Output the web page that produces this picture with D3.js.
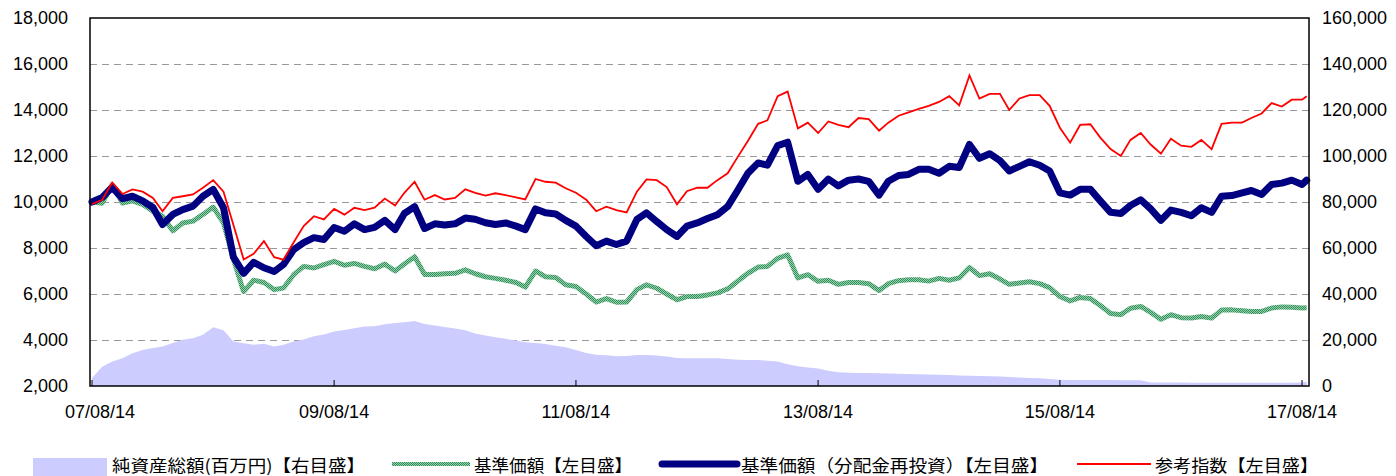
<!DOCTYPE html>
<html>
<head>
<meta charset="utf-8">
<script src="https://cdn.jsdelivr.net/npm/d3@7"></script>
<style>
  body { margin: 0; background: #fff; }
  text { font-family: "Liberation Sans", Arial, sans-serif; fill: #000; }
  .jp { font-family: "Noto Sans CJK JP", sans-serif; }
</style>
</head>
<body>
<svg id="chart" width="1396" height="476"></svg>
<script>
// monthly observations, 2007/08/14 .. 2017/08/14, plus the last day shown
const firstDate = "2007-08-14";
const lastDate = "2017-08-28";

// 純資産総額 (百万円), right axis
const netAssets = [
  3500, 8400, 10600, 12100, 14250, 15700, 16500, 17200, 18700, 20100,
  20800, 22300, 25500, 24200, 19300, 18600, 17900, 18400, 17200, 17900,
  19300, 20200, 21600, 22400, 23700, 24400, 25100, 25850, 26000, 26800,
  27400, 27700, 28300, 27000, 26300, 25700, 25000, 24200, 22800, 22000,
  21200, 20500, 19800, 19000, 18700, 18300, 17500, 16800, 15700, 14300,
  13600, 13400, 12900, 13000, 13500, 13500, 13300, 12800, 12200, 12100,
  12100, 12100, 12100, 11700, 11400, 11300, 11300, 11000, 10600, 9500,
  8600, 8000, 7600, 6600, 6000, 5800, 5700, 5600, 5550, 5400,
  5300, 5200, 5100, 5000, 4900, 4800, 4600, 4500, 4300, 4200,
  4100, 3900, 3700, 3500, 3400, 3000, 2700, 2600, 2600, 2600,
  2600, 2600, 2550, 2550, 2500, 1500, 1500, 1500, 1480, 1460,
  1450, 1450, 1450, 1450, 1450, 1450, 1450, 1450, 1450, 1450,
  1500, 1800
];

// 基準価額, left axis
const nav = [
  10000, 9950, 10750, 9950, 10050, 9900, 9600, 9380, 8750, 9090,
  9170, 9460, 9780, 9090, 7500, 6100, 6600, 6500, 6190, 6260,
  6840, 7200, 7130, 7280, 7420, 7250, 7330, 7200, 7100, 7300,
  7000, 7300, 7620, 6850, 6850, 6880, 6900, 7050, 6880, 6750,
  6680, 6600, 6500, 6300, 7000, 6750, 6720, 6400, 6330, 6000,
  5650, 5800, 5640, 5650, 6190, 6400, 6250, 6000, 5750, 5890,
  5890, 5960, 6050, 6220, 6550, 6900, 7170, 7200, 7550, 7700,
  6700, 6840, 6550, 6600, 6420, 6500, 6500, 6450, 6150, 6450,
  6580, 6620, 6620, 6560, 6680, 6600, 6700, 7150, 6800, 6880,
  6650, 6420, 6480, 6530, 6450, 6280, 5890, 5700, 5850, 5800,
  5500, 5150, 5100, 5380, 5460, 5200, 4900, 5100, 4970, 4960,
  5020, 4950, 5300, 5310, 5270, 5240, 5240, 5390, 5440, 5420,
  5390, 5400
];

// 基準価額(分配金再投資), left axis
const navReinvested = [
  10000, 10200, 10650, 10150, 10250, 10050, 9760, 9020, 9460, 9670,
  9820, 10250, 10550, 9750, 7600, 6900, 7380, 7140, 6980, 7280,
  7930, 8230, 8450, 8370, 8890, 8730, 9050, 8800, 8900, 9200,
  8800, 9500, 9800, 8850, 9050, 9000, 9050, 9300, 9250, 9100,
  9020, 9090, 8950, 8800, 9700, 9530, 9480, 9200, 8950, 8500,
  8100, 8300, 8150, 8300, 9240, 9530, 9150, 8800, 8500, 8950,
  9090, 9280, 9450, 9800, 10500, 11250, 11700, 11600, 12450, 12600,
  10900, 11200, 10550, 11000, 10700, 10950, 11000, 10900, 10300, 10900,
  11150, 11200, 11420, 11420, 11250, 11550, 11500, 12500, 11900, 12100,
  11800, 11350, 11550, 11750, 11600, 11350, 10400, 10300, 10550, 10550,
  10050, 9550, 9500, 9850, 10100, 9700, 9200, 9650, 9550, 9400,
  9750, 9550, 10250, 10280, 10400, 10500, 10330, 10760, 10820, 10950,
  10760, 10950
];

// 参考指数, left axis
const refIndex = [
  9900, 10100, 10850, 10350, 10550, 10450, 10180, 9600, 10180, 10250,
  10330, 10620, 10950, 10450, 9000, 7500, 7750, 8300, 7600, 7490,
  8250, 8950, 9380, 9240, 9700, 9450, 9750, 9650, 9750, 10150,
  9850, 10400, 10880, 10100, 10300, 10110, 10180, 10550, 10400, 10280,
  10380, 10300, 10200, 10110, 11000, 10880, 10840, 10600, 10400, 10100,
  9600, 9800, 9650, 9550, 10450, 10980, 10950, 10650, 9900, 10470,
  10620, 10620, 10950, 11250, 11950, 12650, 13400, 13550, 14600, 14800,
  13200, 13450, 13000, 13500, 13350, 13250, 13650, 13600, 13100, 13450,
  13750, 13900, 14050, 14180, 14350, 14600, 14200, 15500, 14500, 14700,
  14700, 14000, 14500, 14650, 14650, 14180, 13230, 12580, 13350, 13380,
  12800, 12300, 12000, 12700, 13000, 12500, 12100, 12750, 12450, 12400,
  12700, 12300, 13400, 13450, 13450, 13650, 13850, 14300, 14150, 14450,
  14450, 14600
];

const xTickDates = ["2007-08-14", "2009-08-14", "2011-08-14", "2013-08-14", "2015-08-14", "2017-08-14"];
const leftTicks = [2000, 4000, 6000, 8000, 10000, 12000, 14000, 16000, 18000];
const rightTicks = [0, 20000, 40000, 60000, 80000, 100000, 120000, 140000, 160000];
const legendLabels = ["純資産総額(百万円)【右目盛】", "基準価額【左目盛】", "基準価額（分配金再投資）【左目盛】", "参考指数【左目盛】"];

const parse = d3.timeParse("%Y-%m-%d");
const dates = d3.range(121).map(i => d3.timeMonth.offset(parse(firstDate), i)).concat([parse(lastDate)]);

const plot = { left: 90, right: 1309, top: 18, bottom: 386 };
const svg = d3.select("#chart");

const x = d3.scaleTime()
  .domain([parse("2007-08-08"), parse("2017-09-04")])
  .range([plot.left, plot.right]);
const yL = d3.scaleLinear().domain([2000, 18000]).range([plot.bottom, plot.top]);
const yR = d3.scaleLinear().domain([0, 160000]).range([plot.bottom, plot.top]);

// stipple pattern for the NAV line
const pat = svg.append("defs").append("pattern")
  .attr("id", "stipple")
  .attr("patternUnits", "userSpaceOnUse")
  .attr("width", 2).attr("height", 2);
pat.append("rect").attr("width", 2).attr("height", 2).attr("fill", "#9ad1ad");
pat.append("rect").attr("width", 1).attr("height", 1).attr("fill", "#2f8f5b");
pat.append("rect").attr("x", 1).attr("y", 1).attr("width", 1).attr("height", 1).attr("fill", "#2f8f5b");

// dashed gridlines
svg.append("g")
  .selectAll("line")
  .data(leftTicks.slice(1, -1))
  .join("line")
  .attr("x1", plot.left).attr("x2", plot.right)
  .attr("y1", d => Math.round(yL(d)) + 0.5)
  .attr("y2", d => Math.round(yL(d)) + 0.5)
  .attr("stroke", "#999")
  .attr("stroke-dasharray", "7,5");

// net assets area
svg.append("path")
  .datum(netAssets)
  .attr("fill", "#ccccff")
  .attr("d", d3.area()
    .x((d, i) => x(dates[i]))
    .y0(plot.bottom)
    .y1(d => yR(d)));

// lines
const lineL = d3.line().x((d, i) => x(dates[i])).y(d => yL(d));

svg.append("path")
  .datum(nav)
  .attr("fill", "none")
  .attr("stroke", "url(#stipple)")
  .attr("stroke-width", 5)
  .attr("stroke-linejoin", "round")
  .attr("d", lineL);

svg.append("path")
  .datum(navReinvested)
  .attr("fill", "none")
  .attr("stroke", "#000080")
  .attr("stroke-width", 7)
  .attr("stroke-linejoin", "round")
  .attr("stroke-linecap", "round")
  .attr("d", lineL);

svg.append("path")
  .datum(refIndex)
  .attr("fill", "none")
  .attr("stroke", "#ff0000")
  .attr("stroke-width", 1.8)
  .attr("d", lineL);

// frame
svg.append("rect")
  .attr("x", plot.left).attr("y", plot.top)
  .attr("width", plot.right - plot.left)
  .attr("height", plot.bottom - plot.top)
  .attr("fill", "none")
  .attr("stroke", "#000")
  .attr("stroke-width", 1.5);

// x ticks (inward) and labels
svg.append("g")
  .selectAll("line")
  .data(xTickDates)
  .join("line")
  .attr("x1", d => x(parse(d))).attr("x2", d => x(parse(d)))
  .attr("y1", plot.bottom).attr("y2", plot.bottom - 6)
  .attr("stroke", "#000");

svg.append("g")
  .selectAll("text")
  .data(xTickDates)
  .join("text")
  .attr("x", (d, i) => x(parse(d)) + (i === 0 ? 8 : 0))
  .attr("y", 412)
  .attr("text-anchor", "middle")
  .attr("dominant-baseline", "central")
  .attr("font-size", 18)
  .text(d => d3.timeFormat("%y/%m/%d")(parse(d)));

// y labels
const fmt = d3.format(",");
svg.append("g")
  .selectAll("text")
  .data(leftTicks)
  .join("text")
  .attr("x", 68)
  .attr("y", d => yL(d))
  .attr("text-anchor", "end")
  .attr("dominant-baseline", "central")
  .attr("font-size", 18)
  .text(fmt);

svg.append("g")
  .selectAll("text")
  .data(rightTicks)
  .join("text")
  .attr("x", 1322)
  .attr("y", d => yR(d))
  .attr("dominant-baseline", "central")
  .attr("font-size", 18)
  .text(fmt);

// legend
const ly = 464;
const lg = svg.append("g");
lg.append("rect").attr("x", 33).attr("y", 458).attr("width", 74).attr("height", 18).attr("fill", "#ccccff");
lg.append("line").attr("x1", 392).attr("x2", 470).attr("y1", ly).attr("y2", ly)
  .attr("stroke", "url(#stipple)").attr("stroke-width", 4);
lg.append("line").attr("x1", 662).attr("x2", 737).attr("y1", ly).attr("y2", ly)
  .attr("stroke", "#000080").attr("stroke-width", 7).attr("stroke-linecap", "round");
lg.append("line").attr("x1", 1077).attr("x2", 1151).attr("y1", ly).attr("y2", ly)
  .attr("stroke", "#ff0000").attr("stroke-width", 2);

const legendX = [112, 474, 741, 1155];
const legendW = [253, 158, 307, 163];
lg.selectAll("text")
  .data(legendLabels)
  .join("text")
  .attr("class", "jp")
  .attr("x", (d, i) => legendX[i])
  .attr("y", ly)
  .attr("dominant-baseline", "central")
  .attr("font-size", 17)
  .attr("textLength", (d, i) => legendW[i])
  .attr("lengthAdjust", "spacingAndGlyphs")
  .text(d => d);
</script>
</body>
</html>
